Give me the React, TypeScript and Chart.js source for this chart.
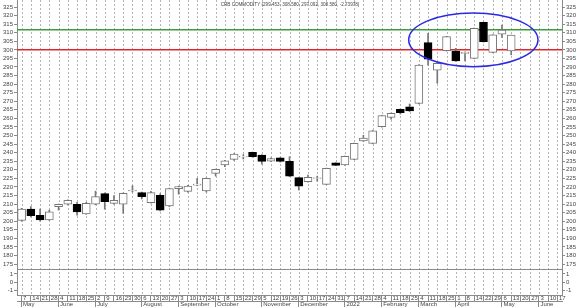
import { useEffect, useRef } from "react";
import { Chart, registerables } from "chart.js";

Chart.register(...registerables);

// ---- x axis (weekly, May 2021 – June 2022) ----
const weekLabels = [
  "7", "14", "21", "28",
  "4", "11", "18", "25",
  "2", "9", "16", "23", "30",
  "6", "13", "20", "27",
  "3", "10", "17", "24",
  "1", "8", "15", "22", "29",
  "5", "12", "19", "26",
  "3", "10", "17", "24", "31",
  "7", "14", "21", "28",
  "4", "11", "18", "25",
  "4", "11", "18", "25",
  "1", "8", "14", "22", "29",
  "6", "13", "20", "27",
  "3", "10", "17",
];
const monthLabels = ["May", "June", "July", "August", "September", "October", "November", "December", "2022", "February", "March", "April", "May", "June"];
const monthStarts = [0, 4, 8, 13, 17, 21, 26, 30, 35, 39, 43, 47, 52, 56];

// ---- weekly OHLC ----
const opens = [
  200.5, 207.0, 203.4, 200.7, 208.5, 210.0, 209.8, 204.2, 210.0, 216.1,
  210.4, 210.0, 217.6, 216.7, 210.8, 215.1, 208.9, 219.0, 217.4, 221.0,
  217.6, 227.9, 232.8, 236.1, 237.5, 240.2, 238.6, 235.1, 237.0, 234.9,
  225.4, 223.0, 224.9, 221.5, 234.1, 232.8, 236.1, 246.8, 245.4, 255.1,
  260.6, 265.3, 266.8, 268.8, 304.2, 288.2, 299.5, 299.3, 297.9, 295.0,
  316.0, 298.5, 309.2, 299.45,
];
const highs = [
  207.5, 208.5, 207.0, 206.5, 210.0, 212.5, 211.0, 211.0, 217.5, 216.5,
  215.0, 216.5, 220.7, 217.0, 217.4, 216.0, 219.3, 220.5, 221.0, 225.0,
  225.2, 230.4, 235.5, 239.5, 238.9, 240.4, 238.8, 237.0, 237.2, 237.6,
  225.6, 226.9, 226.3, 231.0, 234.2, 238.0, 245.6, 250.1, 253.0, 261.8,
  263.1, 265.5, 268.4, 291.3, 309.6, 292.3, 307.9, 300.9, 298.8, 312.7,
  316.2, 308.9, 314.5, 308.58,
];
const lows = [
  200.0, 202.5, 200.0, 200.5, 206.5, 209.5, 203.5, 204.0, 209.5, 207.0,
  210.0, 204.6, 217.0, 213.0, 210.5, 206.0, 208.5, 215.8, 217.0, 220.8,
  217.0, 226.3, 231.8, 235.5, 236.3, 237.3, 233.3, 234.8, 234.5, 226.0,
  218.2, 222.8, 223.4, 221.3, 232.4, 232.5, 235.9, 246.5, 245.2, 254.9,
  259.6, 262.5, 264.0, 268.5, 291.0, 280.5, 299.3, 293.3, 293.5, 294.8,
  304.5, 298.3, 307.3, 297.092,
];
const closes = [
  207.0, 203.2, 200.7, 205.4, 209.8, 212.2, 205.4, 210.4, 214.3, 211.4,
  212.2, 216.3, 218.2, 214.3, 216.7, 206.5, 219.0, 220.2, 220.5, 221.7,
  225.0, 230.2, 235.3, 239.2, 237.9, 237.6, 234.9, 236.6, 234.9, 226.3,
  220.5, 225.6, 225.3, 230.8, 232.6, 237.8, 245.4, 248.5, 252.8, 261.6,
  262.9, 263.3, 264.3, 291.1, 294.5, 292.1, 307.7, 293.5, 298.5, 312.5,
  304.8, 308.7, 311.6, 308.58,
];

// ---- axes ----
const priceTicks = [175, 180, 185, 190, 195, 200, 205, 210, 215, 220, 225, 230, 235, 240, 245, 250, 255, 260, 265, 270, 275, 280, 285, 290, 295, 300, 305, 310, 315, 320, 325];
const subTicks = [-1, 0, 1];
const priceMin = 172.1;
const priceMax = 329.1;
const subMin = -1.6;
const subMax = 1.6;

// ---- annotations ----
const titleText = "CRB COMMODITY (299.453, 308.580, 297.092, 308.580, -2.73978)";
const greenLevel = 311.8;
const redLevel = 300;
const ellipseX = [41.9, 55.9];
const ellipseY = [290.2, 321.5];

const AXIS = "#8a8a8a";
const TEXT = "#444";
const FAMILY = "'Liberation Sans', Arial, sans-serif";
const FONT = { family: FAMILY, size: 6 };

const overlay = {
  id: "overlay",
  beforeDatasetsDraw(chart: any) {
    const { ctx, chartArea, scales } = chart;
    const y = scales.y;
    const x = scales.x;
    ctx.save();
    // dashed weekly grid
    ctx.strokeStyle = "#b4b4b4";
    ctx.lineWidth = 1;
    ctx.setLineDash([2, 2]);
    for (let i = 0; i < weekLabels.length; i++) {
      const px = Math.round(x.getPixelForTick(i)) + 0.5;
      ctx.beginPath();
      ctx.moveTo(px, chartArea.top);
      ctx.lineTo(px, chartArea.bottom);
      ctx.stroke();
    }
    ctx.setLineDash([]);
    const lines = [
      { v: greenLevel, c: "#3c9c3c" },
      { v: redLevel, c: "#e02828" },
    ];
    for (const l of lines) {
      const py = y.getPixelForValue(l.v);
      ctx.beginPath();
      ctx.strokeStyle = l.c;
      ctx.lineWidth = 1.5;
      ctx.moveTo(chartArea.left, py);
      ctx.lineTo(chartArea.right, py);
      ctx.stroke();
    }
    // pane separator
    ctx.beginPath();
    ctx.strokeStyle = AXIS;
    ctx.lineWidth = 1;
    ctx.moveTo(chartArea.left, Math.round(y.bottom) + 0.5);
    ctx.lineTo(chartArea.right, Math.round(y.bottom) + 0.5);
    ctx.stroke();
    ctx.restore();
  },
  afterDatasetsDraw(chart: any) {
    const { ctx, scales } = chart;
    const x = scales.x;
    const y = scales.y;
    const x1 = x.getPixelForValue(ellipseX[0]);
    const x2 = x.getPixelForValue(ellipseX[1]);
    const y1 = y.getPixelForValue(ellipseY[1]);
    const y2 = y.getPixelForValue(ellipseY[0]);
    ctx.save();
    ctx.beginPath();
    ctx.strokeStyle = "#2a2ae6";
    ctx.lineWidth = 1.5;
    ctx.ellipse((x1 + x2) / 2, (y1 + y2) / 2, (x2 - x1) / 2, (y2 - y1) / 2, 0, 0, Math.PI * 2);
    ctx.stroke();
    ctx.fillStyle = TEXT;
    ctx.font = `4.6px ${FAMILY}`;
    ctx.textAlign = "center";
    ctx.textBaseline = "top";
    ctx.fillText(titleText, chart.width / 2, 2);
    ctx.restore();
  },
};

export default function App() {
  const ref = useRef<HTMLCanvasElement>(null);
  useEffect(() => {
    document.body.style.margin = "0";
    const up = opens.map((o, i) => closes[i] >= o);
    const fitY = (w: number) => (s: any) => {
      s.width = w;
      s.paddingTop = 0;
      s.paddingBottom = 0;
    };
    const fitX = (s: any) => {
      s.height = 6;
      s.paddingLeft = 0;
      s.paddingRight = 0;
    };
    const yCommon = (pos: string, stack: string, weight: number, min: number, max: number, ticks: number[]) => ({
      type: "linear",
      position: pos,
      stack,
      stackWeight: weight,
      min,
      max,
      afterBuildTicks: (s: any) => {
        s.ticks = ticks.map((v) => ({ value: v }));
      },
      grid: { drawOnChartArea: false, drawTicks: true, tickLength: 3, color: AXIS },
      border: { display: true, color: AXIS },
      ticks: { padding: 1, font: FONT, color: TEXT, autoSkip: false },
      afterFit: fitY(pos === "left" ? 17 : 18),
    });
    const chart = new Chart(ref.current!, {
      type: "bar",
      data: {
        labels: weekLabels,
        datasets: [
          {
            label: "body",
            data: opens.map((o, i) => [o, closes[i]]),
            backgroundColor: up.map((u) => (u ? "#ffffff" : "#000000")),
            borderColor: up.map((u) => (u ? "#777777" : "#000000")),
            borderWidth: 1,
            borderSkipped: false,
            barThickness: 8,
            grouped: false,
            order: 0,
            xAxisID: "x",
            yAxisID: "y",
          },
          {
            label: "wick",
            data: lows.map((l, i) => [l, highs[i]]),
            backgroundColor: "#777777",
            borderWidth: 0,
            barThickness: 1,
            grouped: false,
            order: 1,
            xAxisID: "x",
            yAxisID: "y",
          },
        ],
      } as any,
      options: {
        animation: false,
        responsive: false,
        devicePixelRatio: 1,
        layout: { padding: 0 },
        plugins: { legend: { display: false }, tooltip: { enabled: false }, title: { display: false } },
        scales: {
          x: {
            type: "category",
            position: "bottom",
            offset: true,
            grid: {
              offset: false,
              drawOnChartArea: false,
              drawTicks: true,
              tickLength: 6,
              color: AXIS,
              tickColor: AXIS,
            },
            border: { display: true, color: AXIS },
            ticks: { autoSkip: false, maxRotation: 0, minRotation: 0, align: "start", labelOffset: 1.5, padding: -6.6, font: FONT, color: TEXT },
            afterFit: fitX,
          },
          xm: {
            type: "category",
            position: "bottom",
            offset: true,
            grid: {
              offset: false,
              drawOnChartArea: false,
              drawTicks: true,
              tickLength: 6,
              color: "transparent",
              tickColor: (c: any) => (monthStarts.includes(c.index) ? AXIS : "transparent"),
            },
            border: { display: true, color: AXIS },
            ticks: {
              autoSkip: false,
              maxRotation: 0,
              minRotation: 0,
              align: "start",
              labelOffset: 1.5,
              padding: -6.6,
              font: FONT,
              color: TEXT,
              callback: (_v: any, i: number) => {
                const k = monthStarts.indexOf(i);
                return k >= 0 ? monthLabels[k] : "";
              },
            },
            afterFit: fitX,
          },
          y2: yCommon("left", "L", 26, subMin, subMax, subTicks),
          y: yCommon("left", "L", 269, priceMin, priceMax, priceTicks),
          yr: yCommon("right", "R", 269, priceMin, priceMax, priceTicks),
          yr2: yCommon("right", "R", 26, subMin, subMax, subTicks),
        } as any,
      },
      plugins: [overlay],
    });
    return () => chart.destroy();
  }, []);
  return (
    <div style={{ width: 580, height: 307 }}>
      <canvas ref={ref} width={580} height={307} style={{ display: "block" }} />
    </div>
  );
}
